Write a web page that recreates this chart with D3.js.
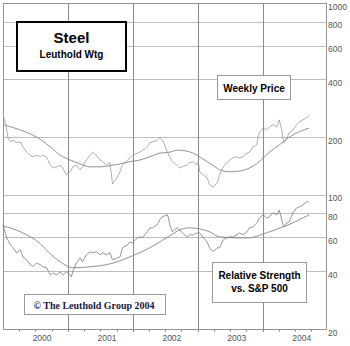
<!DOCTYPE html>
<html>
<head>
<meta charset="utf-8">
<script src="https://d3js.org/d3.v7.min.js"></script>
<style>
  body { margin: 0; background: #fff; }
  text { font-family: "Liberation Sans", Arial, sans-serif; }
</style>
</head>
<body>
<div id="chart"></div>
<script>
// weeks are counted from 1 Jan 2000
var priceWeeks = [0,2,4,6,8,11,14,16,19,22, 24,27,30,32,35,38,40,43,46,48, 51,54,56,59,62,64,67,70,72,75,
    78,80,83,86,88,92,94,96,100,102, 104,108,110,112,116,118,120,124,126,128, 130,132,134,136,140,142,144,148,150,153,
    156,157,158,161,164,166,169,172,174,177, 180,182,185,188,190,193,196,198,201,204, 205,206,209,212,214,217,220,222,224,225,
    226,228,230,233,236,238,241,244,246];
var priceValues = [261,237,198,189,193,187,189,178,167,161, 158,161,158,161,158,143,138,140,143,138, 127,132,140,143,135,140,152,161,167,161,
    152,149,143,147,114,124,132,143,152,156, 161,165,167,171,178,187,189,193,198,193, 182,167,158,149,143,138,140,143,147,149,
    143,149,132,127,123,113,110,115,127,140, 147,152,156,158,156,158,165,167,178,182, 200,210,223,218,226,232,226,246,218,198,
    187,198,210,218,232,240,246,252,261];

var priceAvgWeeks = [0,14,27,38,46,54,62,70,78,86,94,102,110,118,126,134,140,148,156,164,172,174,182,190,198,206,214,222,230,238,246];
var priceAvgValues = [232,218,200,178,161,152,145,140,140,142,145,149,152,158,165,167,171,169,161,149,138,135,132,133,138,149,167,182,200,213,223];

var rsWeeks = [0,3,6,8,11,14,16,19,22,24, 27,30,32,35,38,40,43,46,48,51, 54,55,56,59,62,64,67,70,72,75,
    78,80,83,86,88,92,94,96,100,102, 104,108,110,112,116,118,120,124,126,128, 132,133,134,136,140,142,144,148,150,153,
    156,158,161,164,166,169,172,174,177,180, 182,185,188,190,193,196,198,201,204,206, 209,212,214,217,220,222,224,225,226,228,
    230,233,236,238,241,244,246];
var rsValues = [69.8,59.7,54.9,53.0,49.9,51.7,47.5,45.9,43.2,42.2, 44.2,43.2,42.2,41.7,38.3,39.2,38.3,39.7,38.3,39.7,
    38.3,37.4,39.7,44.2,47.0,44.8,48.7,50.5,49.9,50.5, 48.7,49.9,48.7,49.9,45.9,47.0,47.5,53.0,54.9,56.9,
    56.2,59.7,60.4,59.7,64.2,67.3,67.3,69.8,74.1,76.8, 78.7,75.9,69.8,64.2,67.3,65.7,63.4,60.4,61.9,61.9,
    63.4,63.4,59.7,56.9,53.0,50.5,53.0,53.0,58.3,59.7, 60.4,60.4,61.9,63.4,61.9,64.2,67.3,68.1,71.5,75.9,
    78.7,75.9,76.8,80.6,78.7,83.5,74.1,69.8,68.1,71.5, 72.4,80.6,85.5,86.6,88.7,91.9,91.9];

var rsAvgWeeks = [0,14,30,38,46,56,70,86,102,118,134,142,150,158,166,174,190,198,209,225,233,241,246];
var rsAvgValues = [68.9,64.2,55.6,49.3,44.8,41.7,42.2,43.7,47.5,53.0,61.2,65.7,67.3,66.5,64.2,60.4,59.7,59.7,62.6,68.1,71.5,75.9,78.7];

var yTicks = [1000, 800, 600, 400, 200, 100, 80, 60, 40, 20];
var gridValues = [800, 600, 400, 200, 100, 80, 60, 40];
var years = [2000, 2001, 2002, 2003, 2004];

var width = 350,
    height = 346;
var plot = { left: 3, top: 3, right: 326, bottom: 329 };
var start = new Date(2000, 0, 1);

function weekDate(w) {
    return d3.timeDay.offset(start, w * 7);
}

function pairs(weeks, values) {
    return weeks.map(function (w, i) {
        return { date: weekDate(w), value: values[i] };
    });
}

var svg = d3.select("#chart")
    .append("svg")
    .attr("width", width)
    .attr("height", height);

var x = d3.scaleTime()
    .domain([start, new Date(2004, 11, 22)])
    .range([plot.left, plot.right]);

var y = d3.scaleLog()
    .domain([20, 1000])
    .range([plot.bottom, plot.top]);

// horizontal grid
svg.append("g")
    .selectAll("line")
    .data(gridValues)
    .enter()
    .append("line")
    .attr("x1", plot.left)
    .attr("x2", plot.right)
    .attr("y1", d => Math.round(y(d)) + 0.5)
    .attr("y2", d => Math.round(y(d)) + 0.5)
    .style("stroke", "#bcbcbc")
    .style("stroke-width", 1.2);

// vertical year lines, running a little under the axis
var yearStarts = years.slice(1).map(d => new Date(d, 0, 1));
svg.append("g")
    .selectAll("line")
    .data(yearStarts)
    .enter()
    .append("line")
    .attr("x1", d => Math.round(x(d)) + 0.5)
    .attr("x2", d => Math.round(x(d)) + 0.5)
    .attr("y1", plot.top)
    .attr("y2", plot.bottom + 3)
    .style("stroke", "#8a8a8a")
    .style("stroke-width", 1);

// quarter ticks
var quarters = d3.timeMonth.every(3).range(start, new Date(2004, 11, 1))
    .filter(d => d.getMonth() != 0);
svg.append("g")
    .selectAll("line")
    .data(quarters)
    .enter()
    .append("line")
    .attr("x1", d => Math.round(x(d)) + 0.5)
    .attr("x2", d => Math.round(x(d)) + 0.5)
    .attr("y1", plot.bottom)
    .attr("y2", plot.bottom + 2.5)
    .style("stroke", "#777")
    .style("stroke-width", 1);

// frame
svg.append("rect")
    .attr("x", plot.left + 0.5)
    .attr("y", plot.top + 0.5)
    .attr("width", plot.right - plot.left)
    .attr("height", plot.bottom - plot.top)
    .style("fill", "none")
    .style("stroke", "#939393")
    .style("stroke-width", 1);

// right axis labels
svg.append("g")
    .selectAll("text")
    .data(yTicks)
    .enter()
    .append("text")
    .attr("x", plot.right + 2)
    .attr("y", d => Math.max(y(d) + 6.5, 7))
    .style("font-family", "'Liberation Sans Narrow', 'Arial Narrow', 'Liberation Sans', sans-serif")
    .style("font-size", "8.5px")
    .style("fill", "#555")
    .text(d => d);

// year labels
svg.append("g")
    .selectAll("text")
    .data(years)
    .enter()
    .append("text")
    .attr("x", d => x(new Date(d, 7, 8)))
    .attr("y", 341)
    .attr("text-anchor", "middle")
    .style("font-family", "'Liberation Sans Narrow', 'Arial Narrow', 'Liberation Sans', sans-serif")
    .style("font-size", "8.5px")
    .style("fill", "#555")
    .text(d => d);

var line = d3.line()
    .x(d => x(d.date))
    .y(d => y(d.value));
var smooth = d3.line()
    .x(d => x(d.date))
    .y(d => y(d.value))
    .curve(d3.curveMonotoneX);

svg.append("path")
    .datum(pairs(priceAvgWeeks, priceAvgValues))
    .attr("d", smooth)
    .style("fill", "none")
    .style("stroke", "#858585")
    .style("stroke-width", 0.9);

svg.append("path")
    .datum(pairs(priceWeeks, priceValues))
    .attr("d", line)
    .style("fill", "none")
    .style("stroke", "#9a9a9a")
    .style("stroke-width", 0.8);

svg.append("path")
    .datum(pairs(rsAvgWeeks, rsAvgValues))
    .attr("d", smooth)
    .style("fill", "none")
    .style("stroke", "#858585")
    .style("stroke-width", 0.9);

svg.append("path")
    .datum(pairs(rsWeeks, rsValues))
    .attr("d", line)
    .style("fill", "none")
    .style("stroke", "#7a7a7a")
    .style("stroke-width", 0.8);

// title box
svg.append("rect")
    .attr("x", 17).attr("y", 22)
    .attr("width", 109).attr("height", 49)
    .style("fill", "#fff")
    .style("stroke", "#000")
    .style("stroke-width", 2);
svg.append("text")
    .attr("x", 71.5).attr("y", 43)
    .attr("text-anchor", "middle")
    .style("font-size", "15px")
    .style("font-weight", "bold")
    .text("Steel");
svg.append("text")
    .attr("x", 71.5).attr("y", 58)
    .attr("text-anchor", "middle")
    .style("font-size", "10px")
    .style("font-weight", "bold")
    .text("Leuthold Wtg");

// label boxes
function labelBox(bx, by, bw, bh) {
    svg.append("rect")
        .attr("x", bx + 0.5).attr("y", by + 0.5)
        .attr("width", bw).attr("height", bh)
        .style("fill", "#fff")
        .style("stroke", "#999")
        .style("stroke-width", 1);
}

labelBox(217, 75, 73, 24);
svg.append("text")
    .attr("x", 254).attr("y", 91.5)
    .attr("text-anchor", "middle")
    .style("font-size", "10px")
    .style("font-weight", "bold")
    .text("Weekly Price");

labelBox(212, 262, 94, 40);
svg.append("text")
    .attr("x", 259.5).attr("y", 279)
    .attr("text-anchor", "middle")
    .style("font-size", "10px")
    .style("font-weight", "bold")
    .text("Relative Strength");
svg.append("text")
    .attr("x", 259.5).attr("y", 292)
    .attr("text-anchor", "middle")
    .style("font-size", "10px")
    .style("font-weight", "bold")
    .text("vs. S&P 500");

labelBox(24, 294, 141, 20);
svg.append("text")
    .attr("x", 94).attr("y", 308.5)
    .attr("text-anchor", "middle")
    .style("font-family", "'Liberation Serif', 'Times New Roman', serif")
    .style("font-size", "10px")
    .style("font-weight", "bold")
    .style("fill", "#1a1a3c")
    .text("\u00a9 The Leuthold Group 2004");
</script>
</body>
</html>
